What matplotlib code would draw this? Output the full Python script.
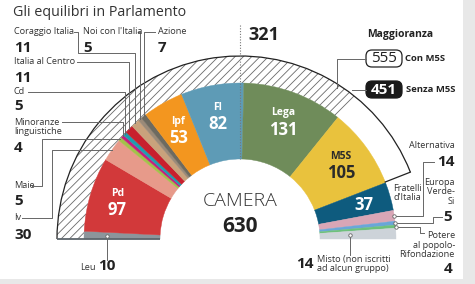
import numpy as np
import matplotlib
matplotlib.use("Agg")
import matplotlib.pyplot as plt
from matplotlib.patches import Wedge, Arc, FancyBboxPatch, Rectangle

plt.rcParams['font.family'] = ['Open Sans', 'DejaVu Sans']
plt.rcParams['hatch.linewidth'] = 0.6

# ---------------- data ----------------
parties = ["Leu", "Pd", "Iv", "Maie", "Minoranze linguistiche", "Cd",
           "Italia al Centro", "Coraggio Italia", "Noi con l'Italia", "Azione",
           "Ipf", "FI", "Lega", "M5S", "Fratelli d'Italia", "Alternativa",
           "Europa Verde-Si", "Potere al popolo-Rifondazione", "Misto"]
seats = [10, 97, 30, 5, 4, 5, 11, 11, 5, 7, 53, 82, 131, 105, 37, 14, 5, 4, 14]
colors = ["#8c959b", "#d2393a", "#e79a8a", "#a3c14a", "#c51f7d", "#1f9eae",
          "#c8202e", "#c9a27c", "#9b8a78", "#6d6a60", "#f3961f", "#5e9bb6",
          "#6f8c5a", "#e9c23d", "#0e5b7e", "#d8a6b6", "#6aa6d8", "#6ec07c",
          "#cdd3d9"]
majority_label = 321
maj_con_m5s = 555
maj_senza_m5s = 451
total_label = 630

# ---------------- figure ----------------
fig = plt.figure(figsize=(4.75, 2.84), dpi=100)
ax = fig.add_axes([0, 0, 1, 1])
ax.set_xlim(0, 475)
ax.set_ylim(284, 0)
ax.axis('off')

# side/bottom grey frame
ax.add_patch(Rectangle((463, 0), 12, 284, facecolor="#e8e8e8", edgecolor='none'))
ax.add_patch(Rectangle((0, 279), 475, 5, facecolor="#e8e8e8", edgecolor='none'))

CX, CY = 240, 239
R_IN, R_OUT, R_HATCH = 80, 156, 183
total = sum(seats)
k = 180.0 / total
cum = np.concatenate([[0], np.cumsum(seats)])


def pt(s, r):
    th = np.radians(180 + s * k)
    return CX + r * np.cos(th), CY + r * np.sin(th)


# hatched majority ring (without M5S)
ax.add_patch(Wedge((CX, CY), R_HATCH, 180, 180 + maj_senza_m5s * k,
                   width=R_HATCH - R_OUT, facecolor='white',
                   edgecolor='#6a6a6a', linewidth=0, hatch='////'))
# outline of majority with M5S
ax.add_patch(Arc((CX, CY), 2 * R_HATCH, 2 * R_HATCH, theta1=180,
                 theta2=180 + maj_con_m5s * k, color='#222222', lw=0.9))
x1, y1 = pt(maj_con_m5s, R_OUT)
x2, y2 = pt(maj_con_m5s, R_HATCH)
ax.plot([x1, x2], [y1, y2], color='#222222', lw=0.9)

# party segments
for i, s in enumerate(seats):
    ax.add_patch(Wedge((CX, CY), R_OUT, 180 + cum[i] * k, 180 + cum[i + 1] * k,
                       width=R_OUT - R_IN, facecolor=colors[i],
                       edgecolor=colors[i], linewidth=0.3))

# baseline under left side
ax.plot([CX - R_HATCH, CX - R_IN], [CY, CY], color='#5d666c', lw=1.3,
        solid_capstyle='butt')

# majority dotted line
ax.plot([CX, CX], [25, CY - R_IN], color='#777777', lw=0.8, ls=(0, (1, 1.5)))
ax.text(248, 35, str(majority_label), fontsize=13, fontweight='bold',
        color='#222222', va='center', ha='left')

# centre labels
ax.text(CX, 201, "CAMERA", fontsize=14, fontweight='light', color='#333333',
        ha='center', va='center')
ax.text(CX, 226, str(total_label), fontsize=15, fontweight='bold',
        color='#222222', ha='center', va='center')

# title
ax.text(13, 13, "Gli equilibri in Parlamento", fontsize=10.3, color='#333333',
        ha='left', va='center')


def mid(i):
    return (cum[i] + cum[i + 1]) / 2.0


# labels inside segments
inner = {"Pd": ("#ffffff", 128), "Ipf": ("#ffffff", 125), "FI": ("#ffffff", 125),
         "Lega": ("#ffffff", 125), "M5S": ("#2a2a2a", 125)}
for name, (col, r) in inner.items():
    i = parties.index(name)
    x, y = pt(mid(i), r)
    ax.text(x, y - 9, name, fontsize=7.5, fontweight='bold', color=col,
            ha='center', va='center')
    ax.text(x, y + 8, str(seats[i]), fontsize=12, fontweight='bold', color=col,
            ha='center', va='center')
i = parties.index("Fratelli d'Italia")
x, y = pt(mid(i), 125)
ax.text(x + 4, y, str(seats[i]), fontsize=12, fontweight='bold', color='white',
        ha='center', va='center')

LC = '#666666'
LW = 0.7
small = 6.6
num = 11


def label_left(name, x, y, yv):
    ax.text(x, y, name, fontsize=small, color='#333333', ha='left', va='center',
            linespacing=1.1)
    ax.text(x, yv, str(seats[parties.index(name.replace("\n", " "))]),
            fontsize=num, fontweight='bold', color='#222222', ha='left',
            va='center')


label_left("Coraggio Italia", 14, 32, 48)
label_left("Noi con l'Italia", 83, 32, 48)
label_left("Azione", 158, 32, 48)
label_left("Italia al Centro", 14, 62, 78)
label_left("Cd", 14, 92, 106)
label_left("Minoranze\nlinguistiche", 14, 127, 148)
label_left("Maie", 14, 186, 201)
label_left("Iv", 14, 218, 235)


def end_pt(name, r=R_OUT):
    return pt(mid(parties.index(name)), r)


# leader lines (left)
ex, ey = end_pt("Coraggio Italia")
ax.plot([74, 78, 78, ex, ex], [32, 32, 53, 53, ey], color=LC, lw=LW)
ex, ey = end_pt("Noi con l'Italia")
ax.plot([138, ex, ex], [32, 32, ey], color=LC, lw=LW)
ex, ey = end_pt("Azione")
ax.plot([155, ex, ex], [32, 32, ey], color=LC, lw=LW)
ex, ey = end_pt("Italia al Centro")
ax.plot([77, ex, ex], [62, 62, ey], color=LC, lw=LW)
ex, ey = end_pt("Cd")
ax.plot([28, ex, ex], [92, 92, ey], color=LC, lw=LW)
ex, ey = end_pt("Minoranze linguistiche")
ax.plot([62, ex, ex], [122, 122, ey], color=LC, lw=LW)
ex, ey = end_pt("Maie")
ax.plot([32, 42, 42, ex], [186, 186, ey, ey], color=LC, lw=LW)
ex, ey = end_pt("Iv")
ax.plot([22, 52, 52, ex], [218, 218, ey, ey], color=LC, lw=LW)

# Leu
ex, ey = end_pt("Leu", 133)
ax.plot([ex, ex], [ey, 260], color=LC, lw=LW)
ax.plot(ex, ey, 'o', ms=2.5, mfc='white', mec=LC, mew=0.6)
ax.text(96, 267, "Leu", fontsize=small, color='#333333', ha='right', va='center')
ax.text(98, 266, str(seats[0]), fontsize=num, fontweight='bold',
        color='#222222', ha='left', va='center')

# Misto
im = parties.index("Misto")
ex, ey = end_pt("Misto", 110)
ax.plot([ex, ex], [ey, 255], color=LC, lw=LW)
ax.plot(ex, ey, 'o', ms=2.5, mfc='white', mec=LC, mew=0.6)
ax.text(314, 264, str(seats[im]), fontsize=num, fontweight='bold',
        color='#222222', ha='right', va='center')
ax.text(317, 264, "Misto (non iscritti\nad alcun gruppo)", fontsize=small,
        color='#333333', ha='left', va='center', linespacing=1.0)

# Right side labels
ia = parties.index("Alternativa")
ax.text(455, 146, "Alternativa", fontsize=small, color='#333333', ha='right',
        va='center')
ax.text(455, 162, str(seats[ia]), fontsize=num, fontweight='bold',
        color='#222222', ha='right', va='center')
ex, ey = end_pt("Alternativa")
ax.plot([ex, 423, 423, 434], [ey, ey, 162, 162], color=LC, lw=LW)
ax.plot(ex, ey, 'o', ms=2.5, mfc='white', mec=LC, mew=0.6)

ie = parties.index("Europa Verde-Si")
ax.text(455, 192, "Europa\nVerde-\nSi", fontsize=small, color='#333333',
        ha='right', va='center', linespacing=1.05)
ax.text(452, 217, str(seats[ie]), fontsize=num, fontweight='bold',
        color='#222222', ha='right', va='center')
ex, ey = end_pt("Europa Verde-Si")
ax.plot([ex, 433, 433, 442], [ey, ey, 217, 217], color=LC, lw=LW)
ax.plot(ex, ey, 'o', ms=2.5, mfc='white', mec=LC, mew=0.6)

ip = parties.index("Potere al popolo-Rifondazione")
ax.text(455, 245, "Potere\nal popolo-\nRifondazione", fontsize=small,
        color='#333333', ha='right', va='center', linespacing=1.05)
ax.text(452, 269, str(seats[ip]), fontsize=num, fontweight='bold',
        color='#222222', ha='right', va='center')
ex, ey = end_pt("Potere al popolo-Rifondazione")
ax.plot([ex, 420, 420, 424], [ey, ey, 233, 233], color=LC, lw=LW)
ax.plot(ex, ey, 'o', ms=2.5, mfc='white', mec=LC, mew=0.6)

ax.text(407, 193, "Fratelli\nd'Italia", fontsize=small, color='#333333',
        ha='center', va='center', linespacing=1.05)

# Maggioranza block
ax.text(400, 35, "Maggioranza", fontsize=7.5, fontweight='bold',
        color='#222222', ha='center', va='center')
ax.add_patch(FancyBboxPatch((366, 50), 36, 17,
                            boxstyle="round,pad=0,rounding_size=6",
                            facecolor='white', edgecolor='#222222', lw=0.9))
ax.text(384, 58.5, str(maj_con_m5s), fontsize=11, color='#222222',
        ha='center', va='center')
ax.text(405, 58.5, "Con M5S", fontsize=6.8, fontweight='bold',
        color='#222222', ha='left', va='center')
ax.add_patch(FancyBboxPatch((366, 81), 36, 17,
                            boxstyle="round,pad=0,rounding_size=6",
                            facecolor='#1a1a1a', edgecolor='#1a1a1a', lw=0.9))
ax.text(384, 89.5, str(maj_senza_m5s), fontsize=11, fontweight='bold',
        color='white', ha='center', va='center')
ax.text(406, 89.5, "Senza M5S", fontsize=6.8, fontweight='bold',
        color='#222222', ha='left', va='center')
ax.plot([366, 337, 337], [58.5, 58.5, 88], color=LC, lw=LW)
ax.plot([352, 366], [89.5, 89.5], color=LC, lw=LW)

fig.savefig("out.png", dpi=100)
